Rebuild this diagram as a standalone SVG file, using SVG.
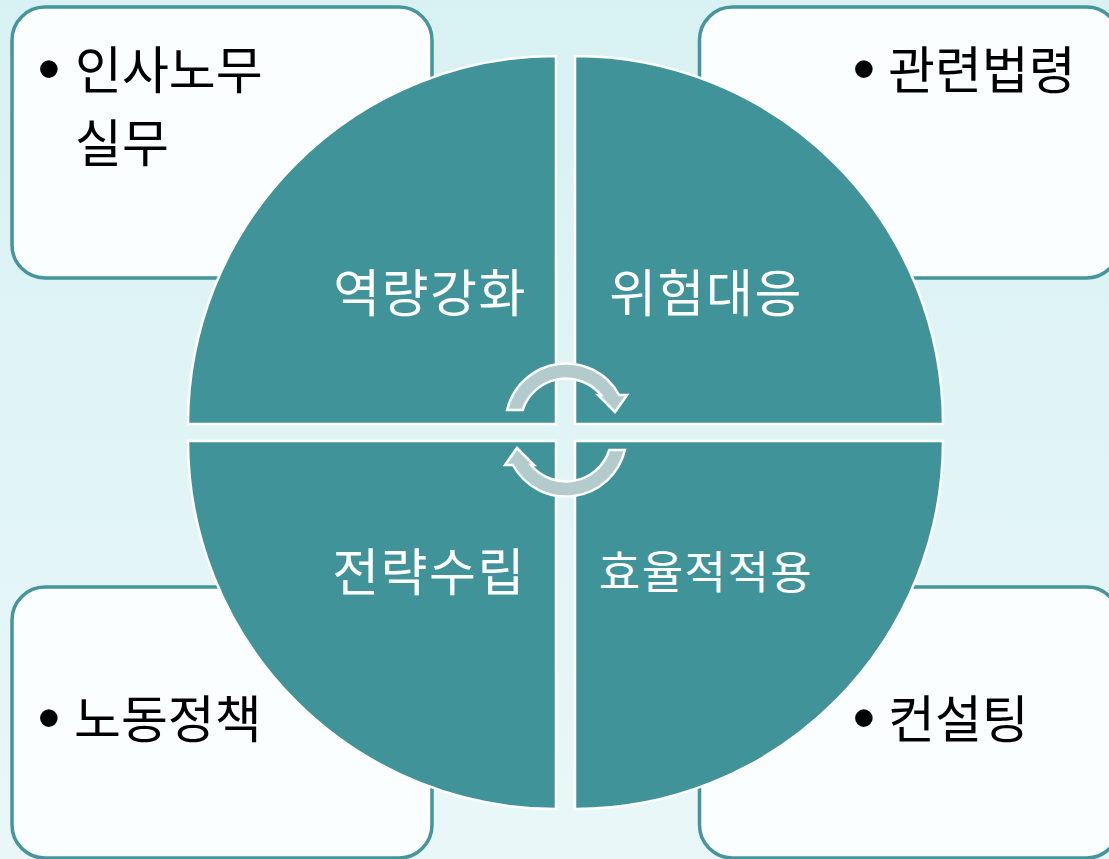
<svg xmlns="http://www.w3.org/2000/svg" width="1109" height="859" viewBox="0 0 1109 859">
  <defs>
    <linearGradient id="bg" x1="0" y1="0" x2="0" y2="1">
      <stop offset="0" stop-color="#d8f1f3"/>
      <stop offset="1" stop-color="#e9f7f8"/>
    </linearGradient>
    <path id="cyc" d="M 507.1 410 A 60.5 60.5 0 0 1 619.1 395 L 627 395 L 615 412 L 598 395 L 601 395 A 45.5 45.5 0 0 0 522.7 410 Z"/>
  </defs>
  <style>
    .box { fill: #fbfefe; stroke: #46959b; stroke-width: 3.5; }
    .quad { fill: #409499; stroke: #ffffff; stroke-width: 2.5; }
    .arrow { fill: #b3cbcc; stroke: #ffffff; stroke-width: 2.5; stroke-linejoin: miter; }
    .lbl { font-family: "Noto Sans CJK KR", "Noto Sans", sans-serif; fill: #000000; font-size: 51px; }
    .bul { font-family: "Liberation Sans", Arial, sans-serif; fill: #000000; font-size: 65px; }
    .qlbl { font-family: "Noto Sans CJK KR", "Noto Sans", sans-serif; fill: #ffffff; font-size: 51px; letter-spacing: 1.5px; text-anchor: middle; }
  </style>
  <rect x="0" y="0" width="1109" height="859" fill="url(#bg)"/>

  <g id="box-tl">
    <rect class="box" x="12" y="7" width="420" height="271" rx="33" ry="33"/>
    <text class="bul" x="37.6" y="91">•</text>
    <text class="lbl" x="75" y="89">인사노무</text>
    <text class="lbl" x="75" y="162">실무</text>
  </g>
  <g id="box-tr">
    <rect class="box" x="699.5" y="7" width="420" height="271" rx="33" ry="33"/>
    <text class="bul" x="852.6" y="91">•</text>
    <text class="lbl" x="888" y="89">관련법령</text>
  </g>
  <g id="box-bl">
    <rect class="box" x="12" y="587" width="420" height="271" rx="33" ry="33"/>
    <text class="bul" x="37.6" y="740">•</text>
    <text class="lbl" x="74" y="738">노동정책</text>
  </g>
  <g id="box-br">
    <rect class="box" x="699.5" y="587" width="420" height="271" rx="33" ry="33"/>
    <text class="bul" x="852.6" y="740">•</text>
    <text class="lbl" x="888" y="738">컨설팅</text>
  </g>

  <g id="quad-tl">
    <path class="quad" d="M 556 424 L 188 424 A 368 368 0 0 1 556 56 Z"/>
    <text class="qlbl" x="430" y="312">역량강화</text>
  </g>
  <g id="quad-tr">
    <path class="quad" d="M 575 424 L 575 56 A 368 368 0 0 1 943 424 Z"/>
    <text class="qlbl" x="706" y="312">위험대응</text>
  </g>
  <g id="quad-bl">
    <path class="quad" d="M 556 441 L 556 809 A 368 368 0 0 1 188 441 Z"/>
    <text class="qlbl" x="429" y="591">전략수립</text>
  </g>
  <g id="quad-br">
    <path class="quad" d="M 575 441 L 943 441 A 368 368 0 0 1 575 809 Z"/>
    <text class="qlbl" x="706" y="589" style="font-size:45px">효율적적용</text>
  </g>

  <g id="connectors">
    <use id="arrow-top" class="arrow" href="#cyc"/>
    <use id="arrow-bottom" class="arrow" href="#cyc" transform="rotate(180 566 430)"/>
  </g>
</svg>
